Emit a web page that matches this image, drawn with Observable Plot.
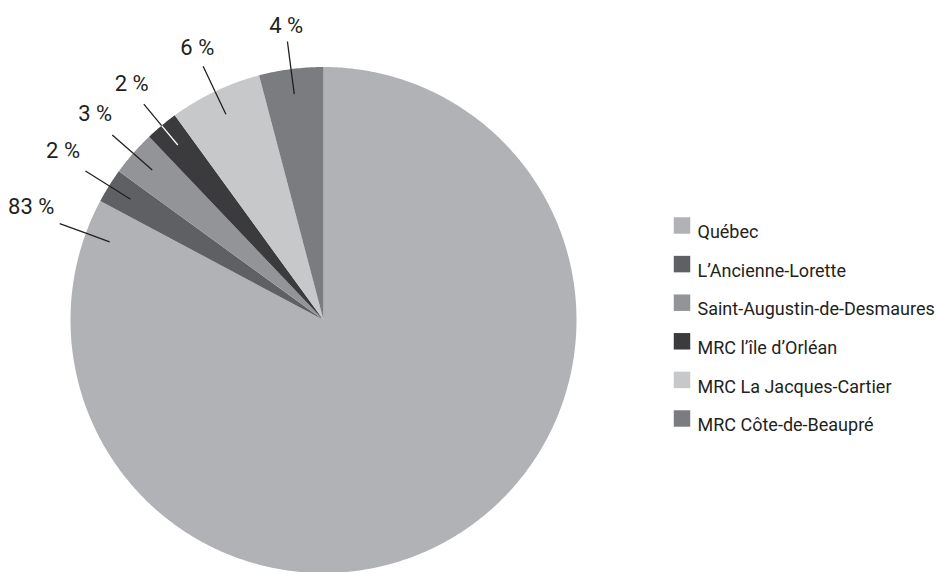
<!DOCTYPE html>
<html>
<head>
<meta charset="utf-8">
<script src="https://cdn.jsdelivr.net/npm/d3@7"></script>
<script src="https://cdn.jsdelivr.net/npm/@observablehq/plot@0.6"></script>
<style>
  html, body { margin: 0; padding: 0; background: #fff; }
  #chart svg { display: block; }
</style>
</head>
<body>
<div id="chart"></div>
<script>
// ---- Data ----
const categories = ["Québec", "L’Ancienne-Lorette", "Saint-Augustin-de-Desmaures", "MRC l’île d’Orléan", "MRC La Jacques-Cartier", "MRC Côte-de-Beaupré"];
const shares = [82.8, 2.2, 2.9, 2.1, 5.9, 4.1];
const labels = ["83 %", "2 %", "3 %", "2 %", "6 %", "4 %"];
const colors = ["#b1b2b5", "#5f6064", "#929497", "#3b3b3d", "#c7c8ca", "#7b7c80"];

// ---- Layout ----
const W = 936, H = 572;
const CX = 323, CY = 319.5, R = 253; // pie centre and radius in pixels
const rad = Math.PI / 180;

// angle measured clockwise from 12 o'clock; unit circle data space (y up)
const pt = (deg, r) => ({x: r * Math.sin(deg * rad), y: r * Math.cos(deg * rad)});

const total = d3.sum(shares);
let acc = 0;
const slices = categories.map((name, i) => {
  const a0 = acc / total * 360;
  acc += shares[i];
  const a1 = acc / total * 360;
  return {name, a0, a1, share: shares[i], label: labels[i], color: colors[i]};
});

// slice outlines: centre + arc
const polys = [];
for (const s of slices) {
  polys.push({name: s.name, ...pt(0, 0)});
  const n = Math.max(2, Math.ceil((s.a1 - s.a0) / 0.5));
  for (let k = 0; k <= n; k++) polys.push({name: s.name, ...pt(s.a0 + (s.a1 - s.a0) * k / n, 1)});
}

// label anchors
const lab = slices.map(s => {
  const a = s.share > 50 ? s.a1 - 8 : (s.a0 + s.a1) / 2;
  const sn = Math.sin(a * rad);
  const rt = (290 + 24 * sn * sn) / R;
  const p0 = pt(a, 0.90), p1 = pt(a, 1.0), p2 = pt(a, 1.11), pt_ = pt(a, rt);
  const dark = d3.lab(s.color).l < 35;
  return {...s, x0: p0.x, y0: p0.y, x1: p1.x, y1: p1.y, x2: p2.x, y2: p2.y, tx: pt_.x, ty: pt_.y,
          inner: dark ? "#ffffff" : "#231f20"};
});

const ink = "#231f20";
const legendMarks = categories.flatMap((c, i) => [
  Plot.dot([c], {frameAnchor: "top-left", dx: 681.5, dy: 225 + 38.6 * i, symbol: "square", r: 9.3, fill: d => d}),
  Plot.text([c], {frameAnchor: "top-left", dx: 697, dy: 225 + 38.6 * i, text: d => d, textAnchor: "start",
                  fontSize: 18, fill: ink})
]);

const chart = Plot.plot({
  width: W,
  height: H,
  margin: 0,
  style: {fontFamily: "Roboto, 'Liberation Sans', sans-serif", background: "#fff"},
  x: {domain: [-CX / R, (W - CX) / R], axis: null},
  y: {domain: [-(H - CY) / R, CY / R], axis: null},
  color: {domain: categories, range: colors},
  marks: [
    Plot.line(polys, {x: "x", y: "y", z: "name", fill: "name", stroke: "none", curve: "linear-closed"}),
    Plot.link(lab, {x1: "x0", y1: "y0", x2: "x1", y2: "y1", stroke: "inner", strokeWidth: 1.3}),
    Plot.link(lab, {x1: "x1", y1: "y1", x2: "x2", y2: "y2", stroke: ink, strokeWidth: 1.3}),
    Plot.text(lab, {x: "tx", y: "ty", dy: -6, text: "label", fontSize: 22, fill: ink, textAnchor: "middle"}),
    ...legendMarks
  ]
});

document.getElementById("chart").appendChild(chart);
</script>
</body>
</html>
